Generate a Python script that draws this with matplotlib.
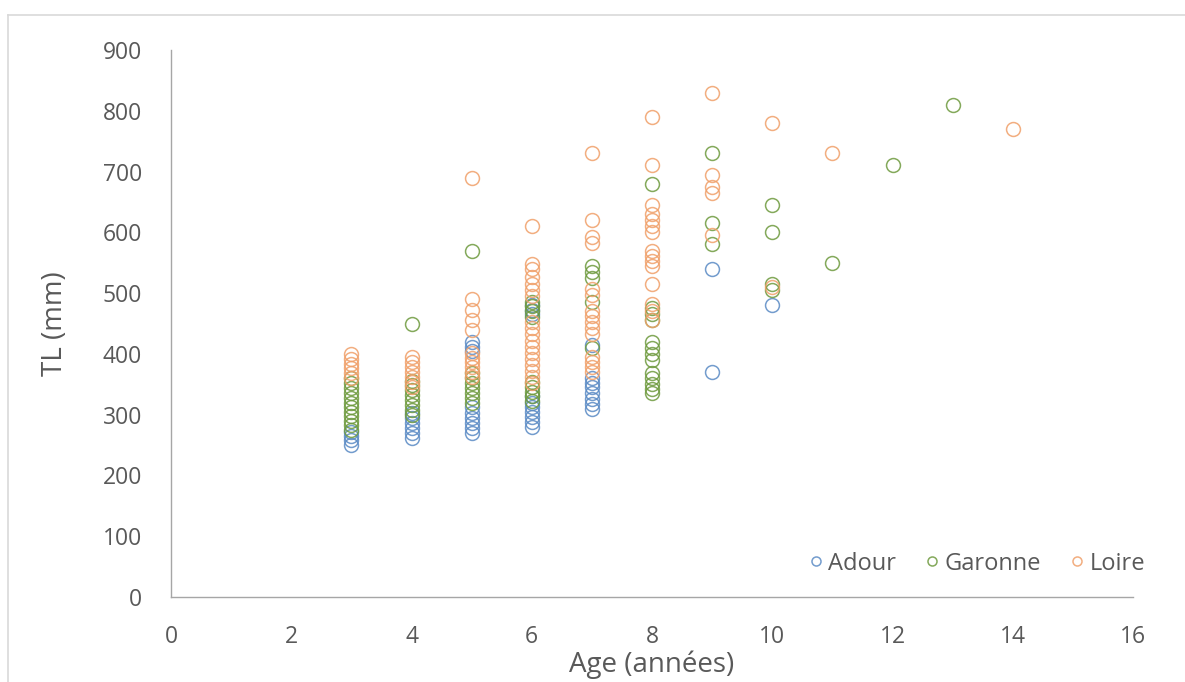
import matplotlib
matplotlib.use("Agg")
import matplotlib.pyplot as plt
from matplotlib.lines import Line2D

plt.rcParams['font.family'] = ['Open Sans', 'DejaVu Sans']

# ---- data (age in years, total length in mm) ----
adour_age = [3, 3, 3, 3,
             4, 4, 4, 4, 4, 4,
             5, 5, 5, 5, 5, 5, 5, 5, 5,
             6, 6, 6, 6, 6, 6, 6, 6, 6, 6,
             7, 7, 7, 7, 7, 7, 7, 7,
             9, 9,
             10]
adour_tl = [250, 258, 265, 272,
            262, 270, 278, 286, 294, 302,
            270, 278, 286, 294, 302, 312, 405, 412, 420,
            280, 288, 296, 304, 312, 320, 330, 465, 472, 480,
            310, 318, 326, 335, 345, 352, 360, 415,
            540, 370,
            480]

garonne_age = [3, 3, 3, 3, 3, 3, 3, 3, 3, 3, 3, 3,
               4, 4, 4, 4, 4, 4, 4, 4, 4,
               5, 5, 5, 5, 5, 5, 5, 5,
               6, 6, 6, 6, 6, 6, 6, 6, 6,
               7, 7, 7, 7, 7,
               8, 8, 8, 8, 8, 8, 8, 8, 8, 8, 8, 8, 8,
               9, 9, 9,
               10, 10, 10, 10,
               11, 12, 13]
garonne_tl = [275, 283, 290, 298, 305, 312, 320, 328, 336, 344, 352, 360,
              300, 308, 316, 324, 332, 340, 348, 356, 450,
              320, 328, 336, 344, 352, 360, 368, 570,
              322, 330, 338, 346, 354, 460, 470, 478, 486,
              410, 485, 525, 535, 545,
              335, 343, 351, 360, 368, 390, 400, 410, 420, 455, 465, 475, 680,
              730, 615, 580,
              645, 600, 515, 505,
              550, 710, 810]

loire_age = [3, 3, 3, 3, 3, 3,
             4, 4, 4, 4, 4, 4, 4,
             5, 5, 5, 5, 5, 5, 5, 5, 5, 5, 5,
             6, 6, 6, 6, 6, 6, 6, 6, 6, 6, 6, 6, 6, 6, 6, 6, 6, 6,
             7, 7, 7, 7, 7, 7, 7, 7, 7, 7, 7, 7, 7, 7, 7,
             8, 8, 8, 8, 8, 8, 8, 8, 8, 8, 8, 8, 8, 8, 8,
             9, 9, 9, 9, 9,
             10, 10,
             11, 14]
loire_tl = [360, 368, 376, 384, 392, 400,
            345, 354, 362, 370, 378, 386, 395,
            362, 370, 378, 386, 394, 402, 440, 455, 472, 490, 690,
            352, 362, 372, 382, 392, 402, 412, 422, 432, 442, 452, 495, 505, 515, 527, 540, 548, 610,
            370, 378, 386, 395, 432, 442, 452, 462, 470, 497, 507, 582, 592, 620, 730,
            455, 470, 482, 515, 545, 553, 561, 570, 600, 610, 620, 630, 645, 710, 790,
            830, 695, 675, 665, 595,
            780, 510,
            730, 770]

series_names = ['Adour', 'Garonne', 'Loire']
series_colors = ['#5B8BC5', '#6E9A3E', '#F0A06A']

x_ticks = [0, 2, 4, 6, 8, 10, 12, 14, 16]
y_ticks = [0, 100, 200, 300, 400, 500, 600, 700, 800, 900]

W, H = 1185, 682
fig = plt.figure(figsize=(W / 100, H / 100), dpi=100)
ax = fig.add_axes([171 / W, 1 - 597 / H, (1133 - 171) / W, (597 - 50) / H])

grey_text = '#595959'
series = [(adour_age, adour_tl), (garonne_age, garonne_tl), (loire_age, loire_tl)]
for (xs, ys), name, col in zip(series, series_names, series_colors):
    ax.plot(xs, ys, linestyle='none', marker='o', markersize=10,
            markerfacecolor='none', markeredgecolor=col, markeredgewidth=1.1,
            alpha=0.85, label=name)

ax.set_xlim(0, 16)
ax.set_ylim(0, 900)
ax.set_xticks(x_ticks)
ax.set_yticks(y_ticks)
ax.tick_params(length=0, labelsize=16.5, colors=grey_text)
ax.tick_params(axis='y', pad=21)
ax.tick_params(axis='x', pad=20)
for s in ['top', 'right']:
    ax.spines[s].set_visible(False)
for s in ['left', 'bottom']:
    ax.spines[s].set_color('#A6A6A6')
    ax.spines[s].set_linewidth(1.0)

ax.set_xlabel('Age (années)', fontsize=20, color=grey_text, labelpad=1)
ax.set_ylabel('TL (mm)', fontsize=20, color=grey_text, labelpad=24)

leg = ax.legend(loc='lower right', bbox_to_anchor=(1.035, 0.0), ncol=3,
                frameon=False, fontsize=17, markerscale=0.65,
                handletextpad=0.05, columnspacing=1.0, handlelength=1.0)
for t in leg.get_texts():
    t.set_color(grey_text)

# chart-area frame (left and top edges visible)
fig.add_artist(Line2D([8 / W, 8 / W], [0, 1 - 15 / H], transform=fig.transFigure,
                      color='#D9D9D9', linewidth=1.2))
fig.add_artist(Line2D([8 / W, 1], [1 - 15 / H, 1 - 15 / H], transform=fig.transFigure,
                      color='#D9D9D9', linewidth=1.2))

fig.savefig('out.png', dpi=100)
